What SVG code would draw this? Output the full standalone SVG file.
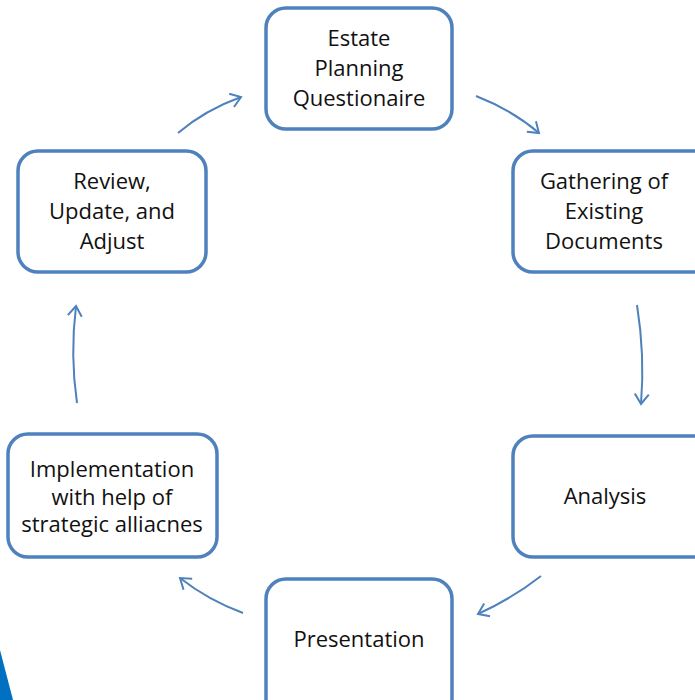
<svg xmlns="http://www.w3.org/2000/svg" width="695" height="700" viewBox="0 0 695 700">
<style>
.box{fill:#fff;stroke:#4F81BD;stroke-width:3.5}
.t{font-family:"Open Sans","Liberation Sans",sans-serif;font-size:22px;fill:#111;text-anchor:middle}
.c{fill:none;stroke:#4F81BD;stroke-width:2}
</style>
<defs>
<marker id="ah" markerWidth="16" markerHeight="16" refX="12" refY="8" orient="auto" markerUnits="userSpaceOnUse">
<path d="M2,1 L12,8 L2,15" fill="none" stroke="#4F81BD" stroke-width="2"/>
</marker>
</defs>
<rect width="695" height="700" fill="#fff"/>
<polygon points="0,650 13,700 0,700" fill="#0070C0"/>
<g id="connectors">
<path class="c" d="M178,133 Q205,110 241,97" marker-end="url(#ah)"/>
<path class="c" d="M476,96 Q512,110 539,133" marker-end="url(#ah)"/>
<path class="c" d="M637,305 Q645,355 641,404" marker-end="url(#ah)"/>
<path class="c" d="M541,576 Q513,598 478,614" marker-end="url(#ah)"/>
<path class="c" d="M243,613 Q208,600 180,578" marker-end="url(#ah)"/>
<path class="c" d="M77,403 Q70,355 76,306" marker-end="url(#ah)"/>
</g>
<g id="n1"><rect class="box" x="266" y="8" width="186" height="121" rx="20"/>
<text class="t" x="359" y="46">Estate</text><text class="t" x="359" y="76">Planning</text><text class="t" x="359" y="106">Questionaire</text></g>
<g id="n2"><rect class="box" x="513" y="151" width="200" height="121" rx="20"/>
<text class="t" x="604" y="189">Gathering of</text><text class="t" x="604" y="219">Existing</text><text class="t" x="604" y="249">Documents</text></g>
<g id="n3"><rect class="box" x="513" y="436" width="200" height="121" rx="20"/>
<text class="t" x="605" y="504">Analysis</text></g>
<g id="n4"><rect class="box" x="266" y="579" width="186" height="140" rx="20"/>
<text class="t" x="359" y="647">Presentation</text></g>
<g id="n5"><rect class="box" x="8" y="434" width="209" height="123" rx="20"/>
<text class="t" x="112" y="477">Implementation</text><text class="t" x="112" y="505">with help of</text><text class="t" x="112" y="532">strategic alliacnes</text></g>
<g id="n6"><rect class="box" x="18" y="151" width="188" height="121" rx="20"/>
<text class="t" x="112" y="189">Review,</text><text class="t" x="112" y="219">Update, and</text><text class="t" x="112" y="249">Adjust</text></g>
</svg>
